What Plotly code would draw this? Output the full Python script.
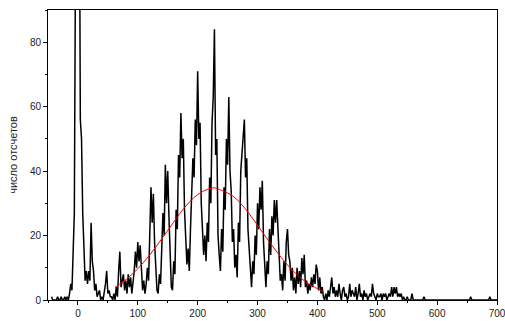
import plotly.graph_objects as go

# channel positions (step 2) from -44 to 560
x_start, x_step = -44, 2
counts = [
    1, 0, 0, 0, 0, 1, 0, 0, 1, 0,
    0, 1, 0, 1, 0, 2, 5, 3, 16, 27,
    110, 190, 210, 150, 56, 50, 27, 12, 6, 9,
    5, 9, 6, 24, 12, 9, 3, 5, 1, 2,
    3, 0, 1, 0, 2, 5, 9, 2, 3, 1,
    1, 0, 2, 0, 4, 1, 9, 15, 4, 6,
    8, 3, 6, 2, 8, 4, 7, 2, 5, 9,
    15, 10, 18, 12, 17, 8, 3, 6, 2, 5,
    10, 6, 22, 35, 24, 33, 18, 10, 3, 2,
    8, 5, 14, 27, 20, 42, 30, 40, 26, 12,
    4, 3, 12, 8, 28, 22, 45, 38, 58, 44,
    50, 28, 18, 11, 16, 9, 22, 32, 44, 38,
    56, 48, 71, 50, 55, 30, 22, 14, 20, 12,
    24, 18, 38, 30, 55, 63, 84, 45, 50, 20,
    14, 9, 22, 15, 35, 28, 50, 42, 63, 40,
    34, 18, 22, 10, 14, 7, 24, 18, 40, 46,
    50, 56, 38, 44, 22, 14, 10, 4, 12, 8,
    20, 14, 30, 22, 35, 28, 37, 18, 10, 4,
    12, 8, 22, 14, 26, 20, 31, 24, 31, 22,
    16, 6, 8, 3, 12, 6, 18, 22, 14, 12,
    6, 10, 3, 7, 2, 10, 5, 9, 4, 13,
    8, 14, 4, 6, 2, 5, 3, 7, 4, 8,
    5, 11, 9, 3, 7, 2, 4, 1, 0, 2,
    0, 3, 1, 4, 7, 2, 4, 1, 3, 1,
    5, 2, 0, 3, 4, 1, 2, 0, 1, 5,
    1, 3, 2, 1, 4, 0, 2, 5, 1, 2,
    0, 3, 1, 2, 0, 1, 2, 1, 5, 2,
    1, 0, 2, 1, 1, 2, 0, 2, 1, 2,
    0, 1, 2, 1, 4, 1, 4, 2, 4, 1,
    2, 1, 2, 0, 1, 0, 0, 1, 0, 0,
    0, 2, 0,
]
# sparse tail beyond 560
tail_x = [562, 576, 578, 580, 654, 656, 658, 686, 688, 690, 700]
tail_y = [0, 0, 1, 0, 0, 1, 0, 0, 1, 0, 0]

# Gaussian fit curve
fit_x = [62, 80, 100, 120, 140, 160, 180, 200, 220, 228, 240, 260, 280, 300, 320, 340, 360, 380, 400, 410]
fit_y = [4.0, 6.3, 9.7, 14.0, 19.0, 24.2, 29.1, 32.7, 34.6, 34.8, 34.0, 32.1, 28.2, 23.2, 18.0, 13.1, 8.9, 5.7, 3.5, 2.6]

x_vals = [x_start + i * x_step for i in range(len(counts))] + tail_x
y_vals = counts + tail_y

x_ticks = [0, 100, 200, 300, 400, 500, 600, 700]
y_ticks = [0, 20, 40, 60, 80]
y_title = "число отсчетов"

fig = go.Figure()
fig.add_trace(go.Scatter(x=x_vals, y=y_vals, mode="lines",
                         line=dict(color="black", width=1.5), showlegend=False))
fig.add_trace(go.Scatter(x=fit_x, y=fit_y, mode="lines",
                         line=dict(color="red", width=1, shape="spline"), showlegend=False))

font = dict(family="Liberation Sans, Arial, sans-serif", size=10, color="#222")
fig.update_layout(
    width=505, height=321,
    margin=dict(l=48, r=8, t=10, b=21),
    plot_bgcolor="white", paper_bgcolor="white",
    font=font,
)
fig.update_xaxes(range=[-50, 700], tickvals=x_ticks, ticks="outside", ticklen=4,
                 showline=True, linecolor="black", linewidth=1, mirror=True,
                 showgrid=False, zeroline=False, tickcolor="black", automargin=False,
                 ticklabeloverflow="allow",
                 minor=dict(dtick=50, tick0=0, ticks="outside", ticklen=2, tickcolor="black"))
fig.update_yaxes(range=[0, 90], tickvals=y_ticks, ticks="outside", ticklen=4,
                 showline=True, linecolor="black", linewidth=1, mirror=True,
                 showgrid=False, zeroline=False, tickcolor="black", automargin=False,
                 ticklabeloverflow="allow",
                 minor=dict(dtick=10, tick0=0, ticks="outside", ticklen=2, tickcolor="black"),
                 title=dict(text=y_title, font=dict(size=11), standoff=10))

fig.write_html("out.html")
